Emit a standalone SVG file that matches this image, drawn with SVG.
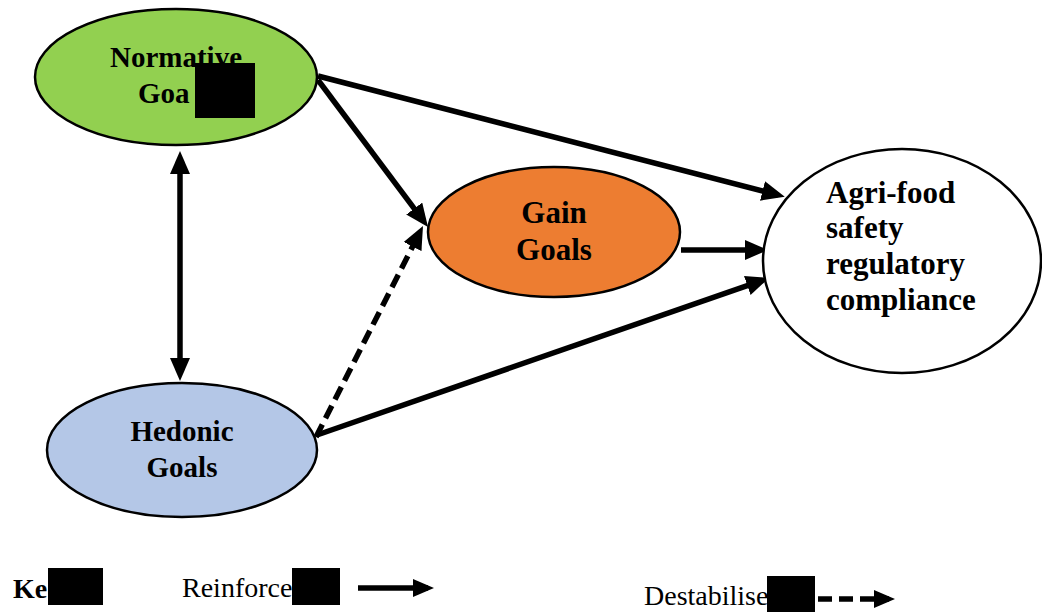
<svg xmlns="http://www.w3.org/2000/svg" width="1042" height="612" viewBox="0 0 1042 612">
  <style>
    .node { stroke: #000; stroke-width: 2.5; }
    .lbl { font-family: "Liberation Serif", "Times New Roman", serif; font-weight: bold; font-size: 29px; fill: #000; }
    .big { font-size: 31px; }
    .key { font-family: "Liberation Serif", "Times New Roman", serif; font-size: 28px; fill: #000; }
    .link { stroke: #000; stroke-width: 5.5; fill: none; }
    .dash { stroke-dasharray: 14 7; }
    .mask { fill: #000; }
  </style>
  <defs>
    <marker id="head" markerUnits="userSpaceOnUse" markerWidth="24" markerHeight="20" viewBox="0 0 24 20" refX="16" refY="10" orient="auto-start-reverse">
      <path d="M0,0 L23,10 L0,20 z" fill="#000"/>
    </marker>
    <marker id="head-sm" markerUnits="userSpaceOnUse" markerWidth="22" markerHeight="18" viewBox="0 0 22 18" refX="15" refY="9" orient="auto">
      <path d="M0,0 L21,9 L0,18 z" fill="#000"/>
    </marker>
  </defs>

  <rect width="1042" height="612" fill="#fff"/>

  <!-- connectors -->
  <g id="connectors">
    <line class="link" x1="180" y1="158" x2="180" y2="374" marker-start="url(#head)" marker-end="url(#head)"/>
    <line class="link" x1="318" y1="76" x2="778" y2="195" marker-end="url(#head)"/>
    <line class="link" x1="318" y1="80" x2="423.8" y2="221.4" marker-end="url(#head)"/>
    <line class="link dash" x1="316" y1="437" x2="419.8" y2="232.3" marker-end="url(#head)"/>
    <line class="link" x1="317" y1="435" x2="762.4" y2="280.3" marker-end="url(#head)"/>
    <line class="link" x1="681" y1="250" x2="761" y2="250" marker-end="url(#head)"/>
  </g>

  <!-- nodes -->
  <g id="normative">
    <ellipse class="node" cx="176" cy="77" rx="141" ry="68" fill="#92D050"/>
    <text class="lbl" x="176" y="67" text-anchor="middle">Normative</text>
    <text class="lbl" x="138" y="103">Goa</text>
    <rect class="mask" x="195" y="63" width="60" height="55"/>
  </g>

  <g id="gain">
    <ellipse class="node" cx="554" cy="232" rx="126" ry="65" fill="#ED7D31"/>
    <text class="lbl big" x="554" y="223" text-anchor="middle">Gain</text>
    <text class="lbl big" x="554" y="260" text-anchor="middle">Goals</text>
  </g>

  <g id="hedonic">
    <ellipse class="node" cx="182" cy="450" rx="135" ry="67" fill="#B4C7E7"/>
    <text class="lbl" x="182" y="441" text-anchor="middle">Hedonic</text>
    <text class="lbl" x="182" y="477" text-anchor="middle">Goals</text>
  </g>

  <g id="compliance">
    <ellipse class="node" cx="902" cy="261" rx="139" ry="112" fill="#fff"/>
    <text class="lbl big" x="826" y="203" font-size="32">Agri-food</text>
    <text class="lbl big" x="826" y="238" font-size="32">safety</text>
    <text class="lbl big" x="826" y="274" font-size="32">regulatory</text>
    <text class="lbl big" x="826" y="310" font-size="32">compliance</text>
  </g>

  <!-- key -->
  <g id="legend">
    <text class="key" x="13" y="598" font-weight="bold">Ke</text>
    <rect class="mask" x="48" y="568" width="55" height="37"/>
    <text class="key" x="182" y="597">Reinforce</text>
    <rect class="mask" x="292" y="568" width="48" height="37"/>
    <line class="link" x1="358" y1="588" x2="428" y2="588" marker-end="url(#head-sm)"/>
    <text class="key" x="644" y="605">Destabilise</text>
    <rect class="mask" x="767" y="576" width="48" height="36"/>
    <line class="link dash" x1="818" y1="599" x2="889" y2="599" stroke-dasharray="11 6" marker-end="url(#head-sm)"/>
  </g>
</svg>
